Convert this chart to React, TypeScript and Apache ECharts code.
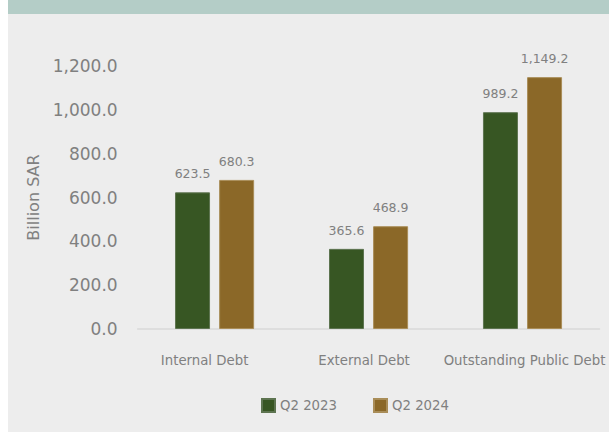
import React, { useEffect, useRef } from "react";
import * as echarts from "echarts";

const categories = ["Internal Debt", "External Debt", "Outstanding Public Debt"];
const seriesNames = ["Q2 2023", "Q2 2024"];
const q2_2023 = [623.5, 365.6, 989.2];
const q2_2024 = [680.3, 468.9, 1149.2];
const yTicks = { min: 0, max: 1200, interval: 200 };

const fmt = (v: number) =>
  Number(v).toLocaleString("en-US", { minimumFractionDigits: 1, maximumFractionDigits: 1 });

const FONT = "DejaVu Sans";
const GRAY = "#808080";

export default function App() {
  const ref = useRef<HTMLDivElement>(null);
  useEffect(() => {
    if (!ref.current) return;
    const chart = echarts.init(ref.current, undefined, { renderer: "svg" });
    const labelCfg = {
      show: true,
      position: "top" as const,
      distance: 12,
      color: GRAY,
      fontFamily: FONT,
      fontSize: 12.5,
      formatter: (p: any) => fmt(p.value),
    };
    const catStyle = { color: GRAY, fontFamily: FONT, fontSize: 13.3 };
    chart.setOption({
      animation: false,
      backgroundColor: "#ededed",
      graphic: [
        {
          type: "rect",
          z: -1,
          shape: { x: 0, y: 0, width: 601, height: 14 },
          style: { fill: "#b4cdc7" },
        },
      ],
      grid: { left: 129.6, right: 9.5, top: 66, bottom: 103 },
      legend: {
        left: 248,
        top: 393,
        itemWidth: 13,
        itemHeight: 13,
        itemGap: 36,
        icon: "rect",
        data: seriesNames,
        textStyle: { color: GRAY, fontFamily: FONT, fontSize: 13.3 },
      },
      xAxis: {
        type: "category",
        data: categories,
        axisLine: { show: true, lineStyle: { color: "#d9d9d9", width: 1.5 } },
        axisTick: { show: false },
        axisLabel: {
          color: GRAY,
          fontFamily: FONT,
          fontSize: 13.3,
          margin: 25,
          interval: 0,
          formatter: (v: string, i: number) => `{c${i}|${v}}`,
          rich: {
            c0: { ...catStyle, padding: [0, 20, 0, 0] },
            c1: { ...catStyle, padding: [0, 9, 0, 0] },
            c2: { ...catStyle, padding: [0, 0, 0, 4] },
          },
        },
      },
      yAxis: {
        type: "value",
        min: yTicks.min,
        max: yTicks.max,
        interval: yTicks.interval,
        name: "Billion SAR",
        nameLocation: "middle",
        nameGap: 94,
        nameTextStyle: { color: GRAY, fontFamily: FONT, fontSize: 16 },
        axisLine: { show: false },
        axisTick: { show: false },
        splitLine: { show: false },
        axisLabel: { color: GRAY, fontFamily: FONT, fontSize: 17, margin: 20, formatter: (v: number) => fmt(v) },
      },
      series: [
        {
          name: seriesNames[0],
          type: "bar",
          data: q2_2023,
          barWidth: 35,
          barGap: "26%",
          itemStyle: { color: "#375623", borderColor: "#5d7450", borderWidth: 1 },
          label: labelCfg,
        },
        {
          name: seriesNames[1],
          type: "bar",
          data: q2_2024,
          barWidth: 35,
          barGap: "26%",
          itemStyle: { color: "#8b6828", borderColor: "#a98d58", borderWidth: 1 },
          label: labelCfg,
        },
      ],
    });
    return () => chart.dispose();
  }, []);
  return (
    <div
      ref={ref}
      style={{ position: "fixed", left: 8, top: 0, width: 601, height: 432 }}
    />
  );
}
